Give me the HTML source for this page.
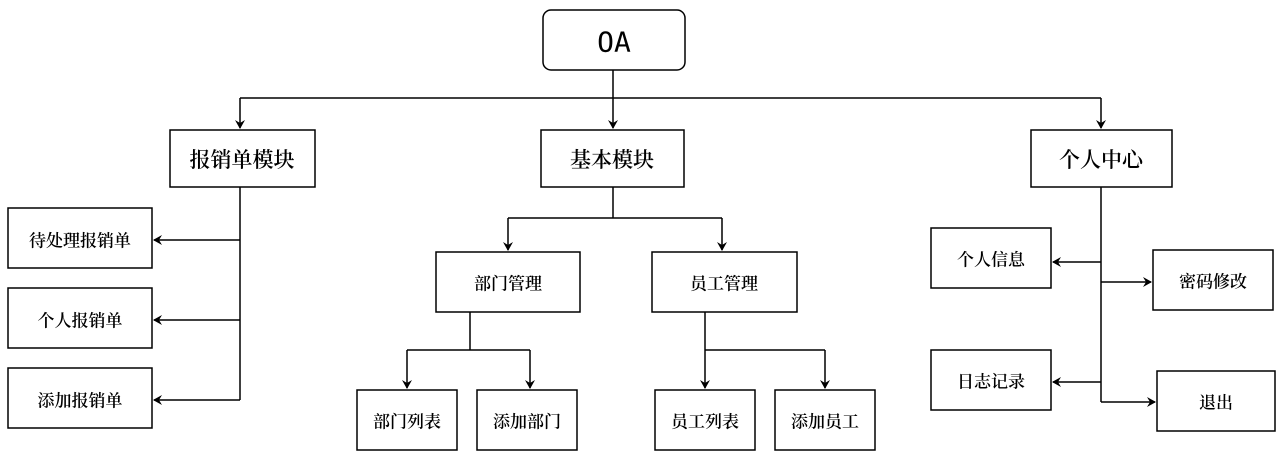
<!DOCTYPE html>
<html><head><meta charset="utf-8"><style>
body{margin:0;background:#fff;}
svg text{font-family:"Noto Serif CJK SC","Liberation Serif",serif;font-weight:600;fill:#000;text-anchor:middle;dominant-baseline:central;}
</style></head><body>
<svg width="1286" height="456" viewBox="0 0 1286 456" xmlns="http://www.w3.org/2000/svg">
<defs><marker id="a" markerWidth="10" markerHeight="10" refX="8" refY="5" orient="auto" markerUnits="userSpaceOnUse"><path d="M0,0 L9,5 L0,10 L3,5 Z" fill="#000"/></marker></defs>
<g fill="none" stroke="#000" stroke-width="1.5">
<rect x="543" y="10" width="142" height="60" rx="8"/>
<rect x="170" y="130" width="145" height="57"/>
<rect x="541" y="130" width="143" height="57"/>
<rect x="1031" y="130" width="141" height="57"/>
<rect x="8" y="208" width="144" height="60"/>
<rect x="8" y="288" width="144" height="60"/>
<rect x="8" y="368" width="144" height="60"/>
<rect x="436" y="252" width="144" height="60"/>
<rect x="652" y="252" width="145" height="60"/>
<rect x="357" y="390" width="100" height="60"/>
<rect x="477" y="390" width="100" height="60"/>
<rect x="655" y="390" width="100" height="60"/>
<rect x="775" y="390" width="100" height="60"/>
<rect x="931" y="228" width="120" height="60"/>
<rect x="1153" y="250" width="120" height="60"/>
<rect x="931" y="350" width="120" height="60"/>
<rect x="1157" y="371" width="118" height="60"/>
<path d="M613 70V128"  marker-end="url(#a)"/>
<path d="M240 98H1101"/>
<path d="M240 98V128" marker-end="url(#a)"/>
<path d="M1101 98V128" marker-end="url(#a)"/>
<path d="M240 187V400"/>
<path d="M240 240H154" marker-end="url(#a)"/>
<path d="M240 320H154" marker-end="url(#a)"/>
<path d="M240 400H154" marker-end="url(#a)"/>
<path d="M613 187V218M508 218H722"/>
<path d="M508 218V250" marker-end="url(#a)"/>
<path d="M722 218V250" marker-end="url(#a)"/>
<path d="M470 312V350M407 350H530"/>
<path d="M407 350V388" marker-end="url(#a)"/>
<path d="M530 350V388" marker-end="url(#a)"/>
<path d="M705 312V350M705 350H825"/>
<path d="M705 350V388" marker-end="url(#a)"/>
<path d="M825 350V388" marker-end="url(#a)"/>
<path d="M1101 187V402"/>
<path d="M1101 262H1053" marker-end="url(#a)"/>
<path d="M1101 282H1151" marker-end="url(#a)"/>
<path d="M1101 382H1053" marker-end="url(#a)"/>
<path d="M1101 402H1155" marker-end="url(#a)"/>
</g>
<text x="614" y="42" font-size="28" style="font-family:'DejaVu Sans Mono','Liberation Mono',monospace;font-weight:normal">OA</text>
<g font-size="21">
<text x="242" y="159">报销单模块</text>
<text x="612" y="159">基本模块</text>
<text x="1101" y="159">个人中心</text>
</g>
<g font-size="17">
<text x="80" y="239">待处理报销单</text>
<text x="80" y="319">个人报销单</text>
<text x="80" y="399">添加报销单</text>
<text x="508" y="282">部门管理</text>
<text x="724" y="282">员工管理</text>
<text x="407" y="420">部门列表</text>
<text x="527" y="420">添加部门</text>
<text x="705" y="420">员工列表</text>
<text x="825" y="420">添加员工</text>
<text x="991" y="258">个人信息</text>
<text x="1213" y="280">密码修改</text>
<text x="991" y="380">日志记录</text>
<text x="1216" y="401">退出</text>
</g>
</svg>
</body></html>
